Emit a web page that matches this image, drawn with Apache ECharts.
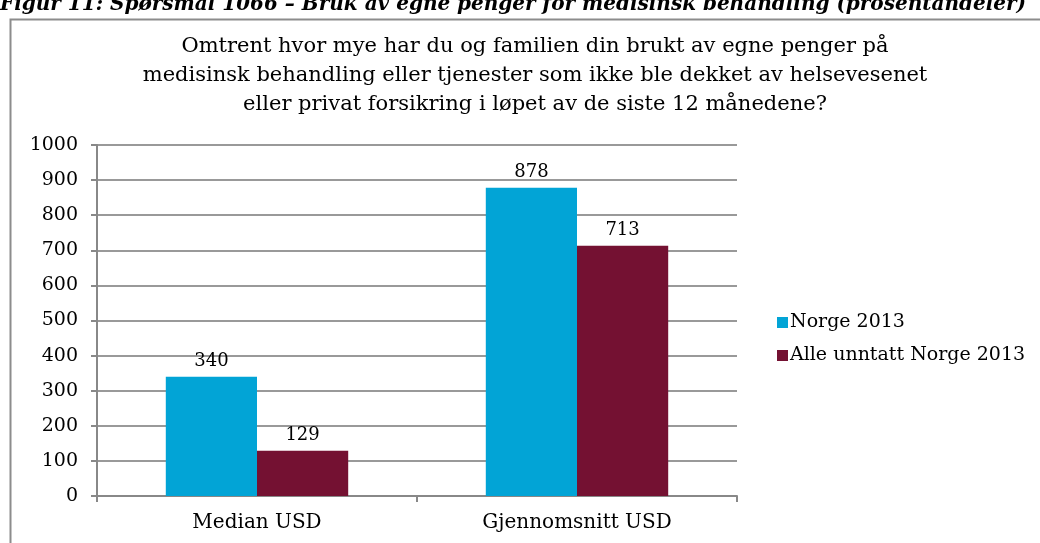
<!DOCTYPE html>
<html><head><meta charset="utf-8">
<script src="https://cdn.jsdelivr.net/npm/echarts@6/dist/echarts.min.js"></script>
<style>html,body{margin:0;padding:0;background:#fff}#c{width:1040px;height:543px}</style>
</head><body><div id="c"></div>
<script>
const categories = ['Median USD', 'Gjennomsnitt USD'];
const seriesNames = ['Norge 2013', 'Alle unntatt Norge 2013'];
const norge = [340, 878];
const alleUnntatt = [129, 713];
const yTicks = [0, 100, 200, 300, 400, 500, 600, 700, 800, 900, 1000];
const titleText = 'Omtrent hvor mye har du og familien din brukt av egne penger på\nmedisinsk behandling eller tjenester som ikke ble dekket av helsevesenet\neller privat forsikring i løpet av de siste 12 månedene?';
const captionText = 'Figur 11: Spørsmål 1066 – Bruk av egne penger for medisinsk behandling (prosentandeler)';

const FONT = '"DejaVu Serif", "Liberation Serif", serif';
const chart = echarts.init(document.getElementById('c'));
chart.setOption({
  animation: false,
  textStyle: { fontFamily: FONT, color: '#000' },
  graphic: [
    { type: 'rect', shape: { x: 10.5, y: 19.5, width: 1100, height: 600 },
      style: { fill: 'none', stroke: '#8c8c8c', lineWidth: 2 }, silent: true },
    { type: 'text', left: 0, top: -5,
      style: { text: captionText, font: 'italic bold 20px ' + FONT, fill: '#000' } }
  ],
  title: {
    text: titleText, left: 530, top: 27, textAlign: 'center',
    textStyle: { fontFamily: FONT, fontSize: 21, fontWeight: 'normal', lineHeight: 29, color: '#000' }
  },
  legend: {
    orient: 'vertical', left: 772, top: 308, itemGap: 14,
    itemWidth: 11, itemHeight: 11, icon: 'rect',
    textStyle: { fontFamily: FONT, fontSize: 19, color: '#000', padding: [0, 0, 0, -3] },
    data: seriesNames
  },
  grid: { left: 97, right: 303, top: 145, bottom: 47, containLabel: false },
  xAxis: {
    type: 'category', data: categories,
    axisLine: { lineStyle: { color: '#888', width: 2 } },
    axisTick: { show: true, length: 6, lineStyle: { color: '#888', width: 2 } },
    axisLabel: { fontFamily: FONT, fontSize: 20, color: '#000', margin: 17 }
  },
  yAxis: {
    type: 'value', min: yTicks[0], max: yTicks[yTicks.length - 1], interval: 100,
    axisLine: { show: true, lineStyle: { color: '#888', width: 2 } },
    axisTick: { show: true, length: 6, lineStyle: { color: '#888', width: 2 } },
    splitLine: { lineStyle: { color: '#999', width: 2 } },
    axisLabel: { fontFamily: FONT, fontSize: 19, color: '#000', margin: 19, formatter: v => String(v) }
  },
  series: [
    { name: seriesNames[0], type: 'bar', data: norge, barGap: '0%', barCategoryGap: '43%',
      itemStyle: { color: '#02A4D6' },
      label: { show: true, position: 'top', distance: 6, fontFamily: FONT, fontSize: 18, color: '#000' } },
    { name: seriesNames[1], type: 'bar', data: alleUnntatt, barGap: '0%', barCategoryGap: '43%',
      itemStyle: { color: '#741132' },
      label: { show: true, position: 'top', distance: 6, fontFamily: FONT, fontSize: 18, color: '#000' } }
  ]
});
</script></body></html>
